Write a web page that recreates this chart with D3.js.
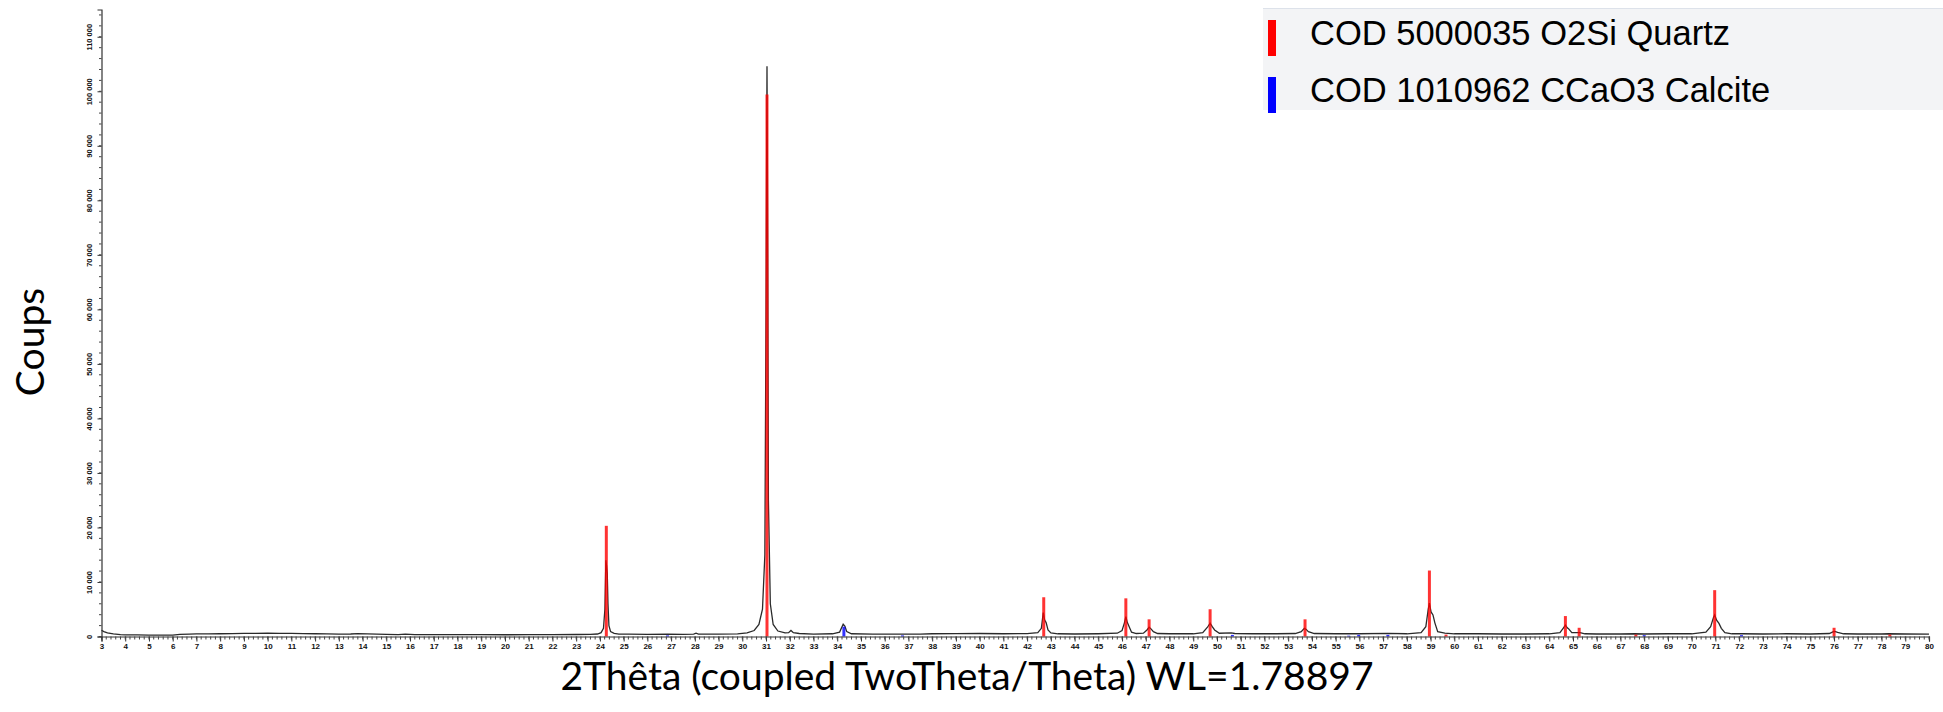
<!DOCTYPE html>
<html>
<head>
<meta charset="utf-8">
<script src="https://cdn.jsdelivr.net/npm/d3@7"></script>
<style>
  body { margin: 0; background: #fff; }
  svg { display: block; }
</style>
</head>
<body>
<svg id="chart" width="1943" height="712"></svg>
<script>
'use strict'

// Tick values (2theta in degrees, counts)
const xTickValues = d3.range(3, 81)
const yTickValues = [0, 10000, 20000, 30000, 40000, 50000, 60000, 70000, 80000, 90000, 100000, 110000]

// Reference sticks: [2theta, counts]
const quartzLines = [
  [24.27, 20300], [31.04, 99400], [42.70, 7200], [46.16, 7000], [47.14, 3150],
  [49.71, 5000], [53.71, 3150], [58.95, 12100], [59.65, 350], [64.68, 3750],
  [65.26, 1600], [67.65, 350], [70.97, 8500], [76.00, 1600], [78.35, 350]
]
const calciteLines = [
  [26.85, 200], [34.28, 1800], [36.75, 200], [50.65, 300], [55.55, 150],
  [55.97, 300], [57.20, 300], [68.00, 250], [72.10, 250]
]

// Measured trace (coupled TwoTheta/Theta scan): [2theta, counts]
const measured = [
  [3.00, 1150], [3.10, 900], [3.25, 650], [3.50, 480], [3.80, 360], [4.00, 300], [4.50, 280],
  [5.00, 250], [5.50, 260], [6.00, 250], [6.30, 380], [6.70, 420], [7.00, 470], [7.50, 480],
  [8.00, 500], [8.50, 520], [9.00, 560], [9.50, 580], [10.00, 600], [10.50, 590], [11.00, 560],
  [11.50, 520], [12.00, 500], [12.50, 470], [13.00, 450], [13.50, 460], [13.80, 520], [14.20, 480],
  [14.60, 420], [15.00, 380], [15.50, 360], [15.80, 420], [16.20, 360], [17.00, 350], [18.00, 350],
  [19.00, 330], [20.00, 320], [21.00, 330], [22.00, 350], [23.00, 370], [23.60, 400], [23.90, 460],
  [24.05, 700], [24.15, 1500], [24.21, 5000], [24.25, 14000], [24.28, 13000], [24.31, 11600],
  [24.34, 6000], [24.38, 2000], [24.45, 900], [24.60, 560], [24.80, 450], [25.20, 420], [26.00, 400],
  [26.85, 440], [27.50, 400], [27.95, 450], [28.05, 620], [28.15, 450], [29.00, 420], [29.80, 470],
  [30.20, 650], [30.50, 1100], [30.70, 2200], [30.85, 5000], [30.95, 15000], [31.00, 60000],
  [31.04, 104600], [31.07, 70000], [31.10, 25000], [31.18, 6000], [31.30, 2200], [31.50, 1000],
  [31.80, 650], [31.95, 700], [32.05, 1100], [32.15, 700], [32.40, 550], [33.00, 450], [33.80, 500],
  [34.10, 800], [34.25, 2250], [34.32, 1900], [34.40, 900], [34.60, 500], [35.50, 420], [36.70, 450],
  [37.50, 450], [38.00, 500], [39.00, 540], [40.00, 550], [41.00, 500], [42.00, 540], [42.45, 700],
  [42.60, 1500], [42.68, 4400], [42.74, 3000], [42.80, 2550], [42.88, 1200], [43.00, 650],
  [43.30, 500], [44.00, 460], [45.00, 500], [45.80, 600], [46.00, 1100], [46.10, 2500],
  [46.16, 3650], [46.22, 2600], [46.30, 1800], [46.40, 800], [46.60, 550], [46.90, 600],
  [47.05, 1200], [47.14, 1700], [47.22, 1400], [47.32, 900], [47.50, 550], [48.00, 500],
  [49.00, 500], [49.40, 700], [49.60, 1700], [49.71, 2450], [49.80, 1800], [49.90, 1200],
  [50.10, 600], [50.60, 650], [50.75, 550], [51.50, 500], [52.50, 500], [53.30, 550], [53.55, 900],
  [53.68, 1500], [53.76, 1300], [53.85, 900], [54.10, 550], [55.00, 500], [56.00, 500], [57.20, 560],
  [58.00, 500], [58.60, 700], [58.80, 1800], [58.90, 5000], [58.95, 6100], [59.02, 4500],
  [59.10, 3950], [59.18, 2500], [59.30, 900], [59.60, 600], [60.00, 500], [61.00, 500], [62.00, 460],
  [63.00, 460], [64.00, 500], [64.45, 700], [64.60, 1600], [64.68, 2100], [64.76, 1600],
  [64.82, 1400], [64.95, 700], [65.20, 700], [65.30, 720], [65.50, 500], [66.00, 460], [67.00, 460],
  [67.60, 500], [68.00, 460], [69.00, 500], [70.00, 500], [70.60, 800], [70.80, 1800], [70.92, 3500],
  [70.97, 3950], [71.05, 3000], [71.15, 2400], [71.25, 1500], [71.40, 700], [71.70, 500],
  [72.10, 500], [73.00, 460], [74.00, 500], [75.00, 460], [75.80, 550], [75.95, 850], [76.03, 950],
  [76.15, 750], [76.40, 500], [77.00, 460], [78.00, 460], [78.30, 500], [79.00, 460], [80.00, 450]
]

const legendItems = [
  { label: 'COD 5000035 O2Si Quartz', color: '#ff0000' },
  { label: 'COD 1010962 CCaO3 Calcite', color: '#0000ff' }
]

const svg = d3.select('#chart')

svg.append('rect')
  .attr('width', 1943)
  .attr('height', 712)
  .attr('fill', '#fff')

const x = d3.scaleLinear().domain([3, 80]).range([101.5, 1929])
const y = d3.scaleLinear().domain([0, 115000]).range([636.5, 9.5])

const plot = svg.append('g')

// measured trace
const line = d3.line()
  .x(d => x(d[0]))
  .y(d => y(d[1]))

plot.append('path')
  .datum(measured)
  .attr('d', line)
  .attr('fill', 'none')
  .attr('stroke', '#2a2a2a')
  .attr('stroke-width', 1.3)

// reference sticks drawn over the trace
function addSticks (lines, color) {
  plot.append('g')
    .selectAll('line')
    .data(lines)
    .enter()
    .append('line')
    .attr('x1', d => x(d[0]))
    .attr('x2', d => x(d[0]))
    .attr('y1', y(0))
    .attr('y2', d => y(d[1]))
    .attr('stroke', color)
    .attr('stroke-width', 3)
    .attr('stroke-opacity', 0.8)
}
addSticks(quartzLines, '#ff0000')
addSticks(calciteLines, '#0000ff')

// x axis
const xAxis = svg.append('g')
  .attr('transform', `translate(0,${y(0)})`)
  .call(d3.axisBottom(x).tickValues(xTickValues).tickSize(5).tickPadding(2).tickFormat(d3.format('d')))

xAxis.append('g')
  .selectAll('line')
  .data(d3.range(3, 80.01, 0.2))
  .enter()
  .append('line')
  .attr('x1', d => x(d))
  .attr('x2', d => x(d))
  .attr('y2', 3)
  .attr('stroke', '#444')

// y axis
const yAxis = svg.append('g')
  .attr('transform', `translate(${x(3)},0)`)
  .call(d3.axisLeft(y).tickValues(yTickValues).tickSize(4)
    .tickFormat(v => d3.format(',')(v).replace(/,/g, ' ')))

yAxis.append('g')
  .selectAll('line')
  .data(d3.range(0, 115001, 2000))
  .enter()
  .append('line')
  .attr('y1', d => y(d))
  .attr('y2', d => y(d))
  .attr('x2', -2.5)
  .attr('stroke', '#444')

yAxis.selectAll('.tick text')
  .attr('x', null)
  .attr('dy', null)
  .attr('text-anchor', 'middle')
  .attr('dominant-baseline', 'central')
  .attr('transform', 'translate(-12.5,0) rotate(-90)')

svg.selectAll('.domain').attr('stroke', '#333').attr('stroke-width', 1.2)
svg.selectAll('.tick line').attr('stroke', '#333')
svg.selectAll('.tick text')
  .attr('font-family', 'Liberation Sans, Arial, sans-serif')
  .attr('font-weight', 'bold')
  .attr('font-size', '7.5px')
  .attr('fill', '#111')
xAxis.selectAll('.tick text').attr('font-size', '8px')

// axis titles
svg.append('text')
  .attr('x', 967)
  .attr('y', 690)
  .attr('text-anchor', 'middle')
  .attr('font-family', 'Lato, sans-serif')
  .attr('font-size', 39)
  .attr('fill', '#000')
  .text('2Thêta (coupled TwoTheta/Theta) WL=1.78897')

svg.append('text')
  .attr('transform', 'translate(44,342) rotate(-90)')
  .attr('text-anchor', 'middle')
  .attr('font-family', 'Lato, sans-serif')
  .attr('font-size', 39)
  .attr('fill', '#000')
  .text('Coups')

// legend
const legend = svg.append('g')
legend.append('rect')
  .attr('x', 1263)
  .attr('y', 8)
  .attr('width', 680)
  .attr('height', 102)
  .attr('fill', '#f3f4f6')
legend.append('line')
  .attr('x1', 1263)
  .attr('x2', 1943)
  .attr('y1', 8.5)
  .attr('y2', 8.5)
  .attr('stroke', '#dde2ea')

const legendRows = legend.selectAll('g.row')
  .data(legendItems)
  .enter()
  .append('g')
  .attr('class', 'row')
  .attr('transform', (d, i) => `translate(1268,${20 + i * 57})`)

legendRows.append('rect')
  .attr('width', 8)
  .attr('height', 36)
  .attr('fill', d => d.color)

legendRows.append('text')
  .attr('x', 42)
  .attr('y', 25)
  .attr('font-family', 'Liberation Sans, Arial, sans-serif')
  .attr('font-size', 34.5)
  .attr('fill', '#000')
  .text(d => d.label)
</script>
</body>
</html>
